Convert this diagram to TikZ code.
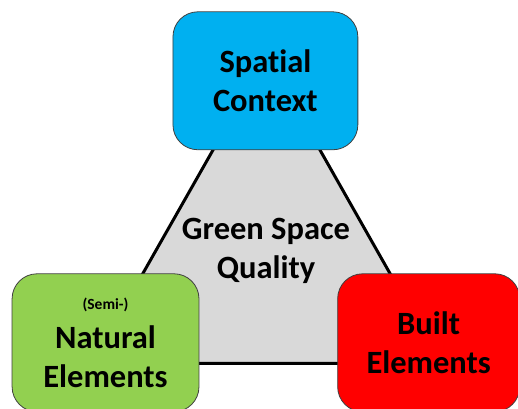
\documentclass[tikz,border=0pt]{standalone}
\usepackage{fontspec}
\setmainfont[Ligatures=NoCommon]{Carlito}

\definecolor{spatialblue}{HTML}{00B0F0}
\definecolor{naturalgreen}{HTML}{92D050}
\definecolor{builtred}{HTML}{FF0000}
\definecolor{qualitygray}{HTML}{D9D9D9}

\begin{document}
\begin{tikzpicture}[
        factor/.style={rounded corners=25pt, draw=black!75, line width=.8pt,
            minimum width=6.5cm, minimum height=4.85cm, align=center,
            font=\bfseries\fontsize{32.5}{39}\selectfont}]
        \useasboundingbox (0, 0) rectangle (18.21, 14.37);
        \clip (0, 0) rectangle (18.21, 14.37);

        % grey triangle behind the three boxes
        \coordinate (apex) at (9.37, 12.41);
        \coordinate (bottomleft) at (3.23, 1.6);
        \coordinate (bottomright) at (15.5, 1.6);
        \path[draw=black, line width=3pt, fill=qualitygray] (bottomleft) -- (bottomright) -- (apex) -- cycle;
        \node[align=center, font=\bfseries\fontsize{32.5}{39}\selectfont] (quality) at (9.35, 5.55) {Green Space\\Quality};

        \node[factor, fill=spatialblue] (spatial) at (9.33, 11.53) {Spatial\\Context};
        \node[factor, fill=naturalgreen, minimum width=6.57cm] (natural) at (3.71, 2.32) {{\fontsize{15.5}{19}\selectfont (Semi-)}\\Natural\\Elements};
        \node[factor, fill=builtred, minimum width=6.4cm] (built) at (15.07, 2.32) {Built\\Elements};
    \end{tikzpicture}
\end{document}
